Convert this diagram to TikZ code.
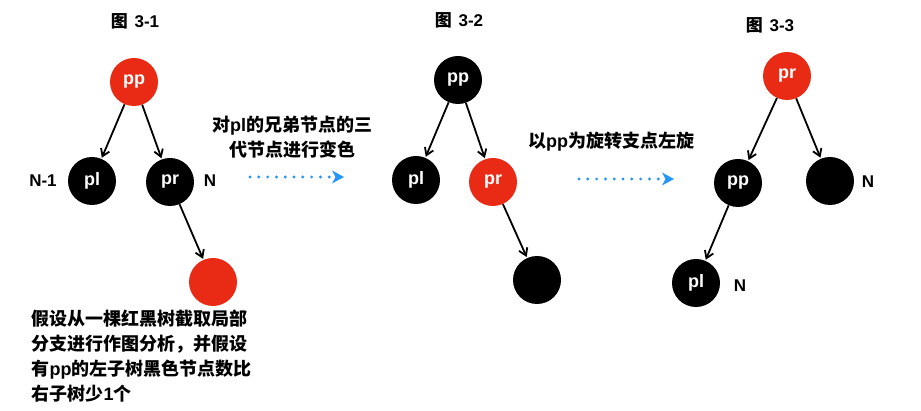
\documentclass[tikz,border=0pt]{standalone}
\usepackage{fontspec}
\setmainfont{Liberation Sans}
\newfontfamily\cjk{Noto Sans CJK SC}
\usetikzlibrary{arrows.meta}
\definecolor{rbred}{RGB}{233,42,20}
\definecolor{dotblue}{RGB}{35,150,250}
\tikzset{
  rbnode/.style={circle, minimum size=48pt, inner sep=0pt, text=white, font=\fontsize{18}{18}\selectfont\bfseries},
  blacknode/.style={rbnode, fill=black},
  rednode/.style={rbnode, fill=rbred},
  edge/.style={-{Straight Barb[length=7pt,width=9pt]}, line width=1.8pt, shorten >=1pt},
  dotarrow/.style={dotblue, line width=3.2pt, line cap=round, dash pattern=on 0pt off 8.8pt, -{Stealth[length=12pt,width=13pt,inset=3.5pt,line width=0pt]}},
  lbl/.style={font=\fontsize{17}{17}\selectfont\bfseries},
  cjktext/.style={font=\cjk\bfseries\fontsize{18}{25}\selectfont},
}
\begin{document}
\begin{tikzpicture}[x=1pt,y=-1pt]
\useasboundingbox (0,0) rectangle (921,411);
% ---------- Figure 3-1
\node[lbl] (t1) at (135,21) {{\cjk\bfseries 图}\hspace{2pt} 3-1};
\node[rednode] (a_pp) at (134,82) {pp};
\node[blacknode] (a_pl) at (92,181) {pl};
\node[blacknode] (a_pr) at (170,182) {pr};
\node[rednode] (a_c) at (213,282) {};
\node[lbl] (a_n1) at (43,181) {N-1};
\node[lbl] (a_n) at (210,181) {N};
\draw[edge] (a_pp) -- (a_pl);
\draw[edge] (a_pp) -- (a_pr);
\draw[edge] (a_pr) -- (a_c);
\node[cjktext, anchor=west, align=left] (desc) at (28,356)
  {假设从一棵红黑树截取局部\\分支进行作图分析，并假设\\有{\rmfamily\bfseries pp}的左子树黑色节点数比\\右子树少{\rmfamily\bfseries 1}个};
% ---------- arrow 1
\node[cjktext, align=center] (m1) at (292,137)
  {对{\rmfamily\bfseries pl}的兄弟节点的三\\代节点进行变色};
\coordinate (d1s) at (250,177);
\coordinate (d1e) at (344,177);
\draw[dotarrow] (d1s) -- (d1e);
% ---------- Figure 3-2
\node[lbl] (t2) at (459,20) {{\cjk\bfseries 图}\hspace{2pt} 3-2};
\node[blacknode] (b_pp) at (458,80) {pp};
\node[blacknode] (b_pl) at (416,180) {pl};
\node[rednode] (b_pr) at (493,182) {pr};
\node[blacknode] (b_c) at (537,280) {};
\draw[edge] (b_pp) -- (b_pl);
\draw[edge] (b_pp) -- (b_pr);
\draw[edge] (b_pr) -- (b_c);
% ---------- arrow 2
\node[cjktext] (m2) at (611,142) {以{\rmfamily\bfseries pp}为旋转支点左旋};
\coordinate (d2s) at (579,179);
\coordinate (d2e) at (674,179);
\draw[dotarrow] (d2s) -- (d2e);
% ---------- Figure 3-3
\node[lbl] (t3) at (770,25) {{\cjk\bfseries 图}\hspace{2pt} 3-3};
\node[rednode] (c_pr) at (787,76) {pr};
\node[blacknode] (c_pp) at (738,183) {pp};
\node[blacknode] (c_r) at (830,181) {};
\node[blacknode] (c_pl) at (696,283) {pl};
\node[lbl] (c_n1) at (868,182) {N};
\node[lbl] (c_n2) at (740,286) {N};
\draw[edge] (c_pr) -- (c_pp);
\draw[edge] (c_pr) -- (c_r);
\draw[edge] (c_pp) -- (c_pl);
\end{tikzpicture}
\end{document}
